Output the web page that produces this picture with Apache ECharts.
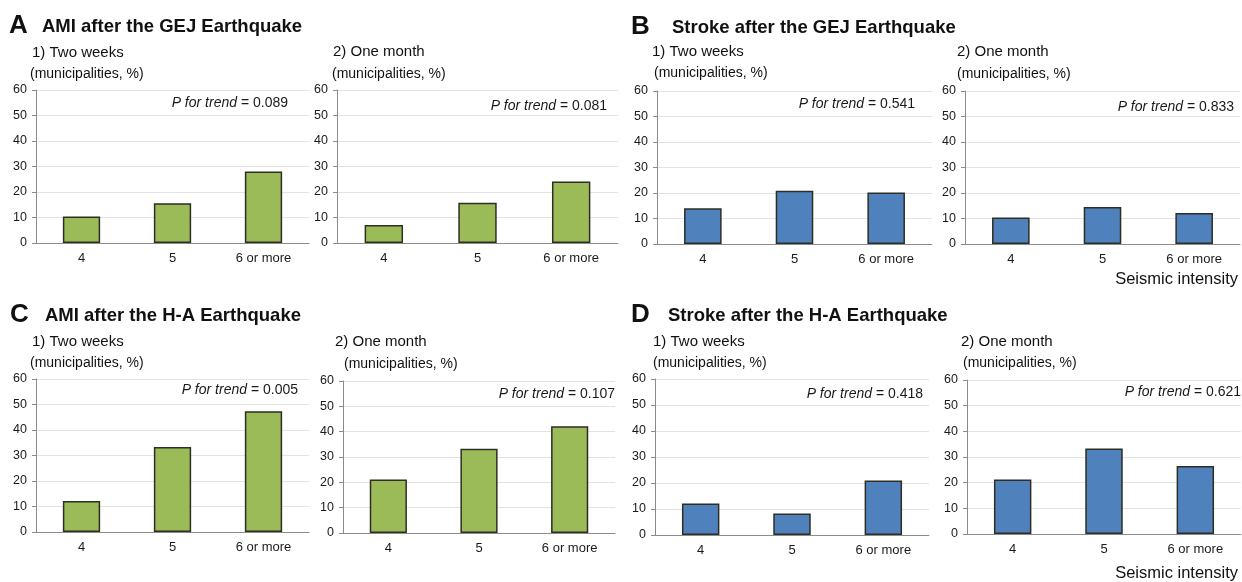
<!DOCTYPE html>
<html lang="en">
<head>
  <meta charset="UTF-8">
  <title>Earthquake AMI / Stroke bars</title>
  <script src="https://cdn.jsdelivr.net/npm/echarts@6/dist/echarts.min.js"></script>
  <style>
    html, body { margin: 0; padding: 0; background: #fff; }
    #main { width: 1242px; height: 582px; }
  </style>
</head>
<body>
  <div id="main"></div>
</body>
<script>
  // seismic intensity categories
  let categories = ['4', '5', '6 or more']
  // % of municipalities
  let amiGejTwoWeeks = [10.4, 15.6, 28.0]
  let amiGejOneMonth = [7.1, 15.8, 24.1]
  let strokeGejTwoWeeks = [14.0, 20.9, 20.2]
  let strokeGejOneMonth = [10.4, 14.5, 12.2]
  let amiHaTwoWeeks = [12.2, 33.3, 47.4]
  let amiHaOneMonth = [21.1, 33.3, 42.1]
  let strokeHaTwoWeeks = [12.1, 8.3, 21.0]
  let strokeHaOneMonth = [21.2, 33.3, 26.5]
  let pTrend = ['0.089', '0.081', '0.541', '0.833', '0.005', '0.107', '0.418', '0.621']
  let yMin = 0, yMax = 60, yStep = 10

  let green = '#9BBB59'
  let blue = '#4F81BD'
  let font = '"Liberation Sans", Arial, sans-serif'

  let panels = [
    { data: amiGejTwoWeeks, color: green, grid: [36, 90, 273, 153], p: [288, 103] },
    { data: amiGejOneMonth, color: green, grid: [337, 90, 281, 153], p: [607, 106] },
    { data: strokeGejTwoWeeks, color: blue, grid: [657, 91, 275, 153], p: [915, 104] },
    { data: strokeGejOneMonth, color: blue, grid: [965, 91, 275, 153], p: [1234, 107] },
    { data: amiHaTwoWeeks, color: green, grid: [36, 379, 273, 153], p: [298, 390] },
    { data: amiHaOneMonth, color: green, grid: [343, 381, 272, 152], p: [615, 394] },
    { data: strokeHaTwoWeeks, color: blue, grid: [655, 379, 274, 156], p: [923, 394] },
    { data: strokeHaOneMonth, color: blue, grid: [967, 380, 274, 154], p: [1241, 392] }
  ]

  // headings: [text, x, y, size, weight]
  let labels = [
    ['A', 9, 26, 26, 'bold'], ['AMI after the GEJ Earthquake', 42, 27, 18.5, 'bold'],
    ['1) Two weeks', 32, 53, 15, 'normal'], ['(municipalities, %)', 30, 74, 14, 'normal'],
    ['2) One month', 333, 52, 15, 'normal'], ['(municipalities, %)', 332, 74, 14, 'normal'],
    ['B', 631, 27, 26, 'bold'], ['Stroke after the GEJ Earthquake', 672, 28, 18.5, 'bold'],
    ['1) Two weeks', 652, 52, 15, 'normal'], ['(municipalities, %)', 654, 73, 14, 'normal'],
    ['2) One month', 957, 52, 15, 'normal'], ['(municipalities, %)', 957, 74, 14, 'normal'],
    ['C', 10, 315, 26, 'bold'], ['AMI after the H-A Earthquake', 45, 316, 18.5, 'bold'],
    ['1) Two weeks', 32, 342, 15, 'normal'], ['(municipalities, %)', 30, 363, 14, 'normal'],
    ['2) One month', 335, 342, 15, 'normal'], ['(municipalities, %)', 344, 364, 14, 'normal'],
    ['D', 631, 315, 26, 'bold'], ['Stroke after the H-A Earthquake', 668, 316, 18.5, 'bold'],
    ['1) Two weeks', 653, 342, 15, 'normal'], ['(municipalities, %)', 653, 363, 14, 'normal'],
    ['2) One month', 961, 342, 15, 'normal'], ['(municipalities, %)', 963, 363, 14, 'normal']
  ]

  initChart()

  function initChart() {
    let myChart = echarts.init(document.getElementById('main'))
    let grid = [], xAxis = [], yAxis = [], series = [], graphic = []

    panels.forEach(function (p, i) {
      grid.push({ left: p.grid[0], top: p.grid[1], width: p.grid[2], height: p.grid[3] })
      xAxis.push({
        type: 'category', gridIndex: i, data: categories,
        axisLine: { lineStyle: { color: '#8c8c8c' } },
        axisTick: { length: 4, lineStyle: { color: '#8c8c8c' } },
        axisLabel: { color: '#1a1a1a', fontSize: 13, fontFamily: font, margin: 9 }
      })
      yAxis.push({
        type: 'value', gridIndex: i, min: yMin, max: yMax, interval: yStep,
        axisLine: { show: true, lineStyle: { color: '#8c8c8c' } },
        axisTick: { show: true, length: 4, lineStyle: { color: '#8c8c8c' } },
        axisLabel: { color: '#1a1a1a', fontSize: 12.5, fontFamily: font, margin: 9 },
        splitLine: { lineStyle: { color: '#e3e3e3' } }
      })
      series.push({
        type: 'bar', xAxisIndex: i, yAxisIndex: i, data: p.data,
        barWidth: '41%',
        itemStyle: { color: p.color, borderColor: '#2e2e24', borderWidth: 1.5 }
      })
      graphic.push({
        type: 'text', x: p.p[0], y: p.p[1],
        style: {
          text: '{i|P for trend} = ' + pTrend[i],
          textAlign: 'right', textVerticalAlign: 'middle',
          fontSize: 14, fontFamily: font, fill: '#1a1a1a',
          rich: { i: { fontStyle: 'italic', fontSize: 14, fontFamily: font, color: '#1a1a1a' } }
        }
      })
    })

    labels.forEach(function (l) {
      graphic.push({
        type: 'text', x: l[1], y: l[2],
        style: {
          text: l[0], textVerticalAlign: 'middle',
          fontSize: l[3], fontWeight: l[4], fontFamily: font, fill: '#111'
        }
      })
    })

    ;[279, 573].forEach(function (y) {
      graphic.push({
        type: 'text', x: 1238, y: y,
        style: {
          text: 'Seismic intensity', textAlign: 'right', textVerticalAlign: 'middle',
          fontSize: 16.5, fontFamily: font, fill: '#111'
        }
      })
    })

    let option = {
      animation: false,
      grid: grid,
      xAxis: xAxis,
      yAxis: yAxis,
      series: series,
      graphic: graphic
    }
    myChart.setOption(option)
  }
</script>
</html>
